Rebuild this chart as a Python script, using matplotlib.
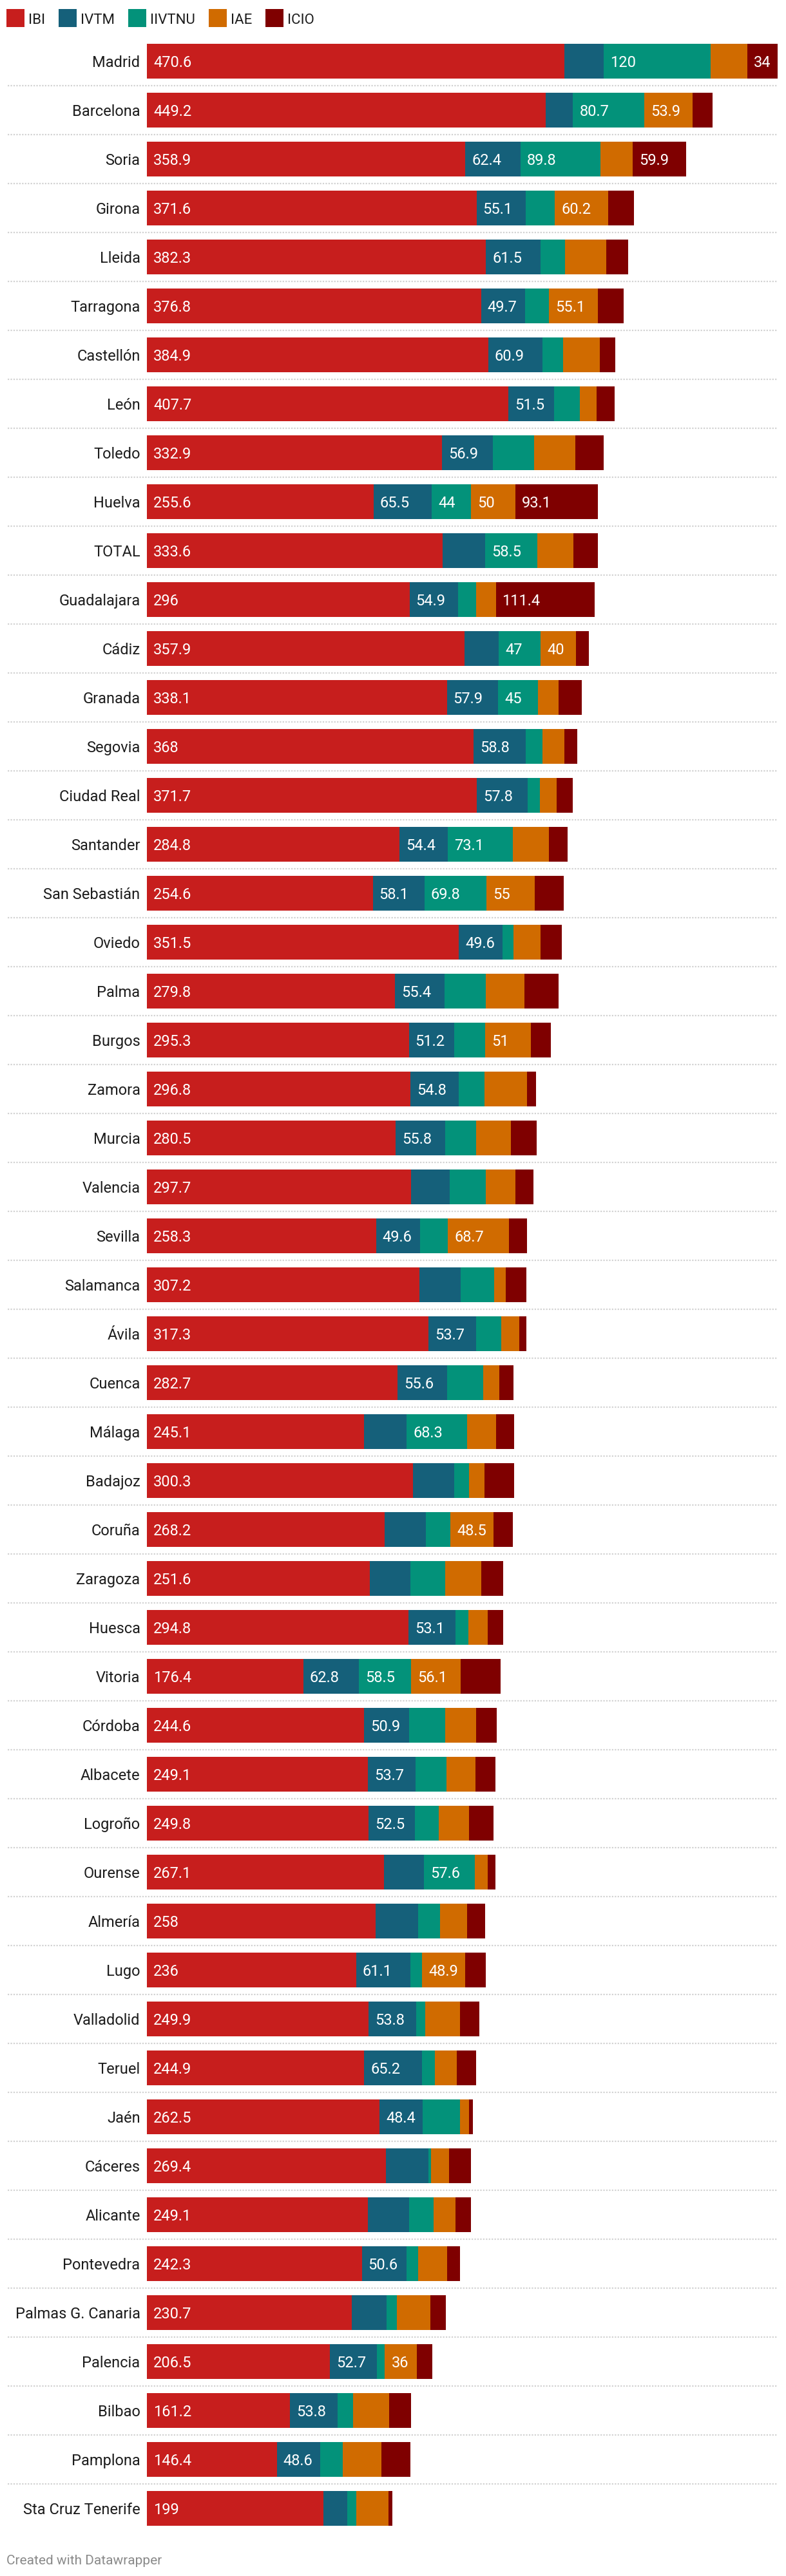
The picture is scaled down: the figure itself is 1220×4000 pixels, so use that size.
import matplotlib.pyplot as plt
from matplotlib import transforms

plt.rcParams['font.family'] = ['Roboto', 'DejaVu Sans']

# -------------------------------------------------
# Data (euros por habitante)
# -------------------------------------------------

ciudades = [
    "Madrid", "Barcelona", "Soria", "Girona", "Lleida", "Tarragona", "Castellón",
    "León", "Toledo", "Huelva", "TOTAL", "Guadalajara", "Cádiz", "Granada",
    "Segovia", "Ciudad Real", "Santander", "San Sebastián", "Oviedo", "Palma",
    "Burgos", "Zamora", "Murcia", "Valencia", "Sevilla", "Salamanca", "Ávila",
    "Cuenca", "Málaga", "Badajoz", "Coruña", "Zaragoza", "Huesca", "Vitoria",
    "Córdoba", "Albacete", "Logroño", "Ourense", "Almería", "Lugo", "Valladolid",
    "Teruel", "Jaén", "Cáceres", "Alicante", "Pontevedra", "Palmas G. Canaria",
    "Palencia", "Bilbao", "Pamplona", "Sta Cruz Tenerife",
]

ibi = [470.6, 449.2, 358.9, 371.6, 382.3, 376.8, 384.9, 407.7, 332.9, 255.6,
       333.6, 296, 357.9, 338.1, 368, 371.7, 284.8, 254.6, 351.5, 279.8,
       295.3, 296.8, 280.5, 297.7, 258.3, 307.2, 317.3, 282.7, 245.1, 300.3,
       268.2, 251.6, 294.8, 176.4, 244.6, 249.1, 249.8, 267.1, 258, 236,
       249.9, 244.9, 262.5, 269.4, 249.1, 242.3, 230.7, 206.5, 161.2, 146.4, 199]

ivtm = [44.6, 31.1, 62.4, 55.1, 61.5, 49.7, 60.9, 51.5, 56.9, 65.5,
        47.9, 54.9, 38.9, 57.9, 58.8, 57.8, 54.4, 58.1, 49.6, 55.4,
        51.2, 54.8, 55.8, 43.5, 49.6, 46.8, 53.7, 55.6, 47.9, 46.3,
        46.3, 45.7, 53.1, 62.8, 50.9, 53.7, 52.5, 45.1, 47.4, 61.1,
        53.8, 65.2, 48.4, 47.9, 46.3, 50.6, 39.5, 52.7, 53.8, 48.6, 27.1]

iivtnu = [120, 80.7, 89.8, 33.3, 27.7, 26.5, 23.1, 28.8, 46.8, 44,
          58.5, 20.3, 47, 45, 19.2, 13.5, 73.1, 69.8, 11.9, 46.8,
          35.1, 28.8, 34.9, 40.6, 31.6, 37.8, 28.8, 40.6, 68.3, 16.4,
          27.7, 38.9, 14.7, 58.5, 40.6, 35.1, 26.5, 57.6, 24.8, 13.1,
          10.2, 14.7, 41.8, 2.8, 27.7, 13.1, 11.9, 9.1, 17.5, 26.1, 10.2]

iae = [41.8, 53.9, 36.7, 60.2, 46.3, 55.1, 41.8, 19.2, 46.3, 50,
       40.6, 22.1, 40, 23.1, 24.3, 18.6, 40.6, 55, 30.5, 43.5,
       51, 47.9, 38.9, 33.3, 68.7, 12.9, 20.3, 18.6, 32.2, 17.5,
       48.5, 40.6, 21.4, 56.1, 34.9, 32.2, 34.4, 14.7, 30.5, 48.9,
       38.9, 24.8, 10.2, 20.3, 24.8, 32.2, 37.8, 36, 40.6, 43.5, 36.1]

icio = [34, 23.1, 59.9, 28.8, 24.8, 29.3, 17.5, 20.3, 32.2, 93.1,
        27.7, 111.4, 14.1, 25.9, 14.7, 18.6, 21.4, 32.2, 24.3, 38.9,
        23.1, 10.2, 29.3, 20.3, 20.3, 23.1, 7.3, 15.8, 20.3, 33.3,
        22.1, 24.8, 17.5, 45.1, 23.1, 23.1, 27.7, 8.5, 20.3, 23.1,
        22.1, 21.4, 4.5, 24.8, 17.5, 14.7, 16.9, 17.5, 24.8, 32.2, 4.5]

series = ["IBI", "IVTM", "IIVTNU", "IAE", "ICIO"]
valores = [ibi, ivtm, iivtnu, iae, icio]
colores = ["#c71e1d", "#15607a", "#03927a", "#d06b00", "#7f0000"]

# -------------------------------------------------
# Figure / layout (pixels)
# -------------------------------------------------

W, H = 1220, 4000
fig = plt.figure(figsize=(W / 100, H / 100), dpi=100)

x0, x1 = 228, 1207      # bar area
row = 76                # row pitch
top = 57                # top of first row
n = len(ciudades)

ax = fig.add_axes([x0 / W, 1 - (top + n * row) / H, (x1 - x0) / W, n * row / H])
totales = [sum(v) for v in zip(*valores)]
ax.set_xlim(0, max(totales))
ax.set_ylim(n - 0.5, -0.5)

ypos = list(range(n))
left = [0.0] * n
label_tr = transforms.offset_copy(ax.transData, fig=fig, x=10, y=0, units="dots")

for nombre, vals, color in zip(series, valores, colores):
    ax.barh(ypos, vals, left=left, height=54 / row, color=color, linewidth=0)
    for i, v in enumerate(vals):
        txt = f"{v:g}"
        # only show the value when it fits inside its segment
        if len(txt) * 12 <= v:
            ax.text(left[i], i, txt, transform=label_tr, color="white",
                    fontsize=17, ha="left", va="center_baseline")
    left = [a + b for a, b in zip(left, vals)]

ax.set_yticks(ypos)
ax.set_yticklabels(ciudades, fontsize=17, color="#1d1d1d")
ax.tick_params(axis="y", length=0, pad=7.5)
ax.set_xticks([])
for s in ax.spines.values():
    s.set_visible(False)

# dotted separators between rows
sep_start = (12 - x0) / (x1 - x0)
for i in range(n - 1):
    ax.plot([sep_start, 1], [i + 0.5, i + 0.5], transform=ax.get_yaxis_transform(),
            color="#d2d2d2", lw=1.6, linestyle=(0, (1, 1)), clip_on=False)

# -------------------------------------------------
# Legend + footer (overlay in pixel coords)
# -------------------------------------------------

over = fig.add_axes([0, 0, 1, 1], facecolor="none")
over.set_xlim(0, W)
over.set_ylim(H, 0)
over.axis("off")

renderer = fig.canvas.get_renderer()
lx = 10
for nombre, color in zip(series, colores):
    over.add_patch(plt.Rectangle((lx, 14), 28, 28, color=color, lw=0))
    t = over.text(lx + 34, 29, nombre, fontsize=16, color="#1d1d1d",
                  ha="left", va="center_baseline")
    bb = t.get_window_extent(renderer)
    lx = lx + 34 + bb.width + 21

over.text(10, 3975, "Created with Datawrapper", fontsize=15, color="#8a8a8a",
          ha="left", va="center_baseline")

fig.savefig("out.png", dpi=100)
